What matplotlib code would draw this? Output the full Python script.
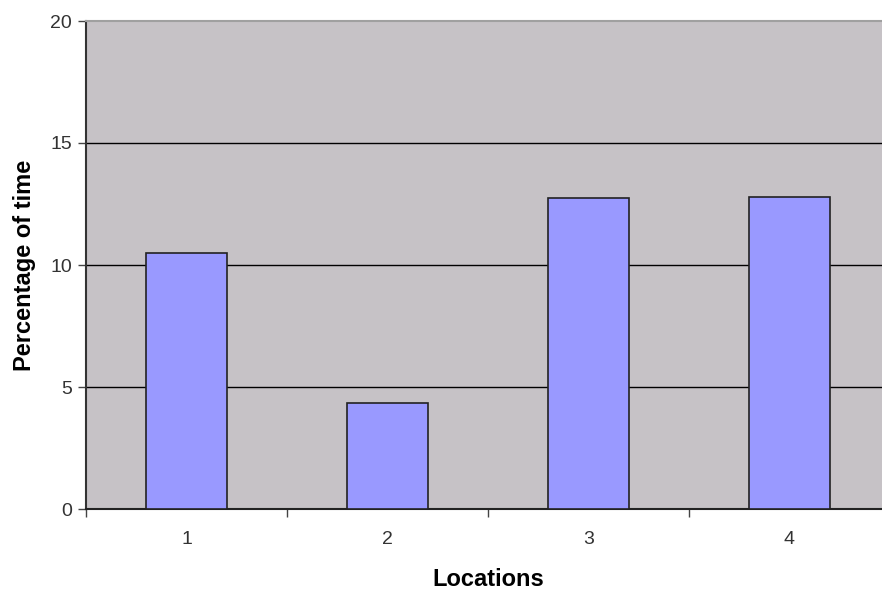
import matplotlib
matplotlib.use("Agg")
import matplotlib.pyplot as plt

# data
locations = [1, 2, 3, 4]
percent_time = [10.5, 4.35, 12.75, 12.8]
yticks = [0, 5, 10, 15, 20]

plt.rcParams['font.family'] = ['Liberation Sans', 'DejaVu Sans']

fig = plt.figure(figsize=(8.82, 5.89), dpi=100)
ax = fig.add_axes([86 / 882, 80 / 589, (890 - 86) / 882, 488 / 589])
ax.set_facecolor('#c6c2c6')

ax.bar(locations, percent_time, width=0.4, color='#9999ff', edgecolor='#222222',
       linewidth=1.2, zorder=3)

ax.set_xlim(0.5, 4.5)
ax.set_ylim(0, 20)
ax.set_yticks(yticks)
for y in yticks[1:-1]:
    ax.axhline(y, color='black', linewidth=1, zorder=1)

# category labels at centres, tick marks at boundaries
ax.set_xticks(locations)
ax.set_xticklabels([str(l) for l in locations])
ax.set_xticks([0.5, 1.5, 2.5, 3.5, 4.5], minor=True)
ax.tick_params(axis='x', which='major', length=0, pad=16, labelsize=14, labelcolor='#333333')
ax.tick_params(axis='x', which='minor', length=6, width=1, direction='out', color='#444444')
ax.tick_params(axis='y', length=6, width=1, direction='out', color='#444444', pad=4,
               labelsize=14, labelcolor='#333333')

ax.spines['top'].set_color('#a0a0a0')
ax.spines['top'].set_linewidth(1.5)
ax.spines['right'].set_visible(False)
ax.spines['left'].set_color('#333333')
ax.spines['left'].set_linewidth(1.5)
ax.spines['bottom'].set_color('#222222')
ax.spines['bottom'].set_linewidth(1.5)

ax.set_xlabel('Locations', fontsize=17, fontweight='bold', labelpad=14)
ax.set_ylabel('Percentage of time', fontsize=17, fontweight='bold', labelpad=10)

fig.savefig('out.png', dpi=100)
